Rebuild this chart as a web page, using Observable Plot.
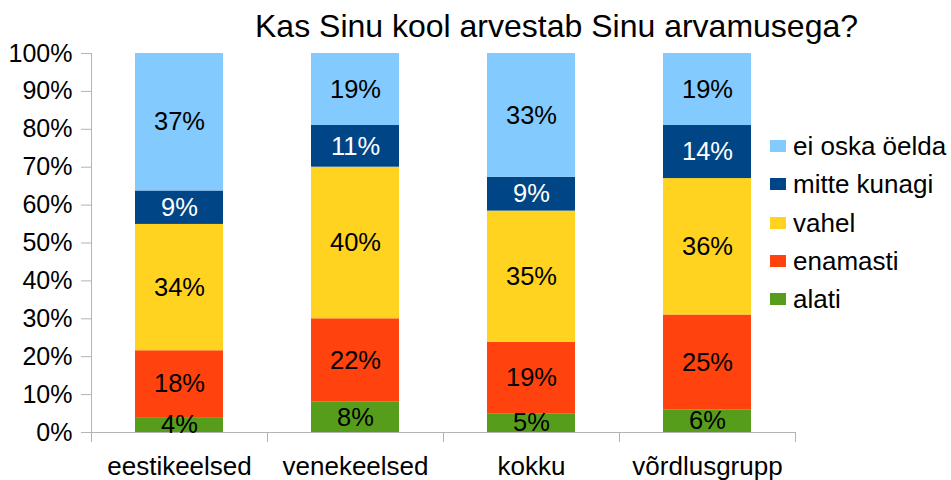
<!DOCTYPE html>
<html>
<head>
<meta charset="utf-8">
<script src="https://cdn.jsdelivr.net/npm/d3@7"></script>
<script src="https://cdn.jsdelivr.net/npm/@observablehq/plot@0.6"></script>
<style>
  html, body { margin: 0; padding: 0; background: #fff; }
  #wrap { position: relative; width: 951px; height: 480px; font-family: "Liberation Sans", Arial, sans-serif; }
  #legend { position: absolute; left: 770px; top: 140px; }
  .item { position: relative; height: 38.3px; }
  .sw { position: absolute; left: 0; top: 0; width: 16px; height: 12px; }
  .lab { position: absolute; left: 23px; top: 6px; transform: translateY(-50%); font-size: 26px; line-height: 26px; color: #000; white-space: nowrap; }
</style>
</head>
<body>
<div id="wrap"><div id="legend"></div></div>
<script>
const title = "Kas Sinu kool arvestab Sinu arvamusega?";
const categories = ["eestikeelsed", "venekeelsed", "kokku", "võrdlusgrupp"];
const seriesNames = ["alati", "enamasti", "vahel", "mitte kunagi", "ei oska öelda"];
const seriesColors = ["#579D1C", "#FF420E", "#FFD320", "#004586", "#83CAFF"];
const labelColors = ["#000", "#000", "#000", "#fff", "#000"];
const alati = [4, 8, 5, 6];
const enamasti = [18, 22, 19, 25];
const vahel = [34, 40, 35, 36];
const mitteKunagi = [9, 11, 9, 14];
const eiOskaOelda = [37, 19, 33, 19];
const yTicks = [0, 10, 20, 30, 40, 50, 60, 70, 80, 90, 100];

const seriesValues = [alati, enamasti, vahel, mitteKunagi, eiOskaOelda];

// build normalized stacks per category
const rows = [];
categories.forEach((c, i) => {
  const total = d3.sum(seriesValues, s => s[i]);
  let cum = 0;
  seriesValues.forEach((s, k) => {
    const v = s[i];
    rows.push({i, category: c, series: seriesNames[k], value: v,
      y1: cum / total, y2: (cum + v) / total,
      fill: seriesColors[k], labelColor: labelColors[k]});
    cum += v;
  });
});

const gray = "#b3b3b3";
const font = "Liberation Sans, Arial, sans-serif";

const chart = Plot.plot({
  width: 951,
  height: 480,
  marginLeft: 91,
  marginRight: 156,
  marginTop: 53,
  marginBottom: 48,
  style: {fontFamily: font, background: "#fff", overflow: "visible"},
  x: {type: "linear", domain: [0, categories.length], axis: null},
  y: {domain: [0, 1], axis: null},
  marks: [
    Plot.ruleX([0], {stroke: gray}),
    Plot.axisY({ticks: yTicks.map(t => t / 100), tickFormat: d => Math.round(d * 100) + "%",
      tickSize: 10, tickPadding: 9, fontSize: 25, stroke: gray, fill: "#000", strokeOpacity: 1}),
    Plot.axisX({ticks: d3.range(categories.length + 1), tickFormat: () => "", tickSize: 10,
      stroke: gray, strokeOpacity: 1}),
    Plot.rect(rows, {x1: d => d.i + 0.25, x2: d => d.i + 0.75, y1: "y1", y2: "y2", fill: "fill"}),
    Plot.ruleY([0], {stroke: gray}),
    Plot.text(rows, {x: d => d.i + 0.5, y: d => (d.y1 + d.y2) / 2, text: d => d.value + "%",
      fill: "labelColor", fontSize: 25.5, lineAnchor: "middle"}),
    Plot.text(categories, {x: (d, i) => i + 0.5, text: d => d, frameAnchor: "bottom", dy: 34,
      fontSize: 26, fill: "#000", lineAnchor: "middle"}),
    Plot.text([title], {frameAnchor: "top", text: d => d, dx: 113, dy: -27, fontSize: 32,
      fill: "#000", lineAnchor: "middle"})
  ]
});
const wrap = document.getElementById("wrap");
wrap.insertBefore(chart, wrap.firstChild);

const legend = document.getElementById("legend");
for (let k = seriesNames.length - 1; k >= 0; k--) {
  const it = document.createElement("div");
  it.className = "item";
  it.innerHTML = `<div class="sw" style="background:${seriesColors[k]}"></div><div class="lab">${seriesNames[k]}</div>`;
  legend.appendChild(it);
}
</script>
</body>
</html>
